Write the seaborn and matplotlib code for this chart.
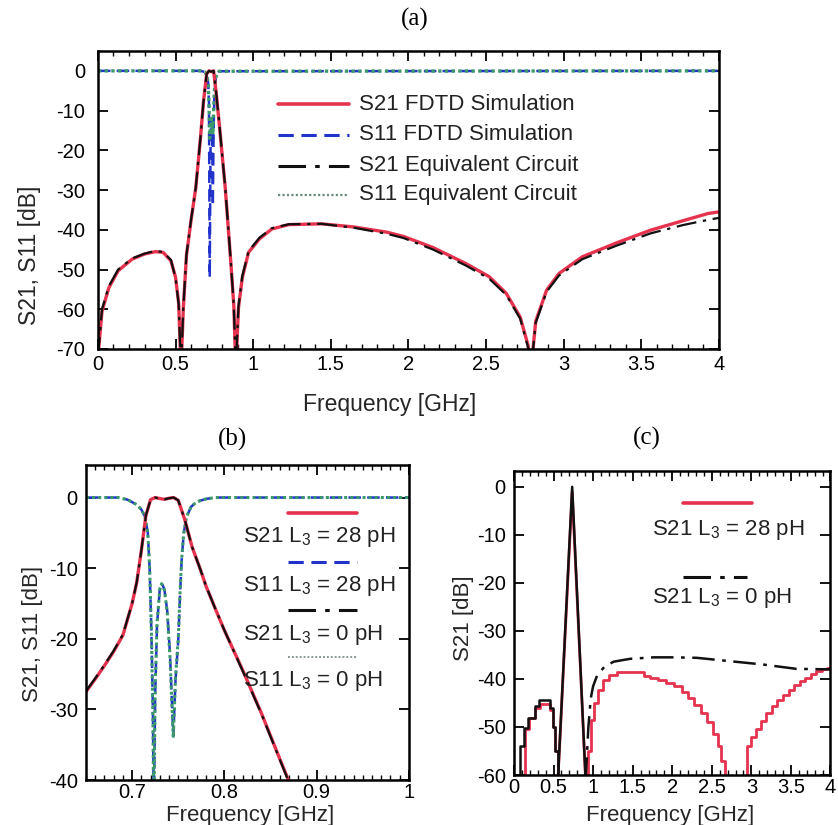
import matplotlib
matplotlib.use("Agg")
import matplotlib.pyplot as plt
import seaborn as sns
from matplotlib.lines import Line2D
from matplotlib.ticker import MultipleLocator, FuncFormatter

# ---------------- data ----------------
# Panel (a): 0 - 4 GHz
freq_a = [0, 0.026, 0.07, 0.13, 0.22, 0.30, 0.37, 0.42, 0.47, 0.50, 0.52, 0.535,
          0.55, 0.57, 0.60, 0.63, 0.66, 0.68, 0.70, 0.715, 0.73, 0.745, 0.76, 0.78,
          0.82, 0.855, 0.875, 0.888, 0.905, 0.93, 0.97, 1.04, 1.12, 1.23, 1.44,
          1.65, 1.86, 1.97, 2.16, 2.37, 2.52, 2.63, 2.72, 2.77, 2.79, 2.82, 2.89,
          2.97, 3.12, 3.34, 3.56, 3.77, 3.93, 4.0]
s21_fdtd_a = [-72, -60.5, -54.6, -50.3, -47.4, -46.1, -45.5, -45.7, -47.8, -52.0,
              -58.5, -75, -59.7, -46.5, -37.5, -29.5, -17.0, -7.7, -0.8, 0.0, -0.2,
              0.0, -5.0, -12.8, -29.5, -47.8, -59.0, -75, -59.7, -52.0, -45.7,
              -42.3, -39.8, -38.7, -38.5, -39.3, -40.6, -41.7, -44.5, -48.5, -51.8,
              -56.0, -62.0, -69.0, -75, -63.0, -55.2, -51.0, -46.8, -43.3, -40.1,
              -37.7, -35.9, -35.5]
s21_eq_a = [-72, -60.0, -54.2, -50.0, -47.2, -46.0, -45.3, -45.6, -47.6, -52.2,
            -58.8, -75, -59.4, -46.3, -37.4, -29.4, -17.0, -7.6, -0.8, 0.0, -0.2,
            0.0, -5.0, -12.7, -29.4, -47.6, -59.2, -75, -59.3, -51.6, -45.4,
            -42.0, -39.6, -38.6, -38.5, -39.5, -41.0, -42.1, -45.0, -49.0, -52.3,
            -56.4, -62.4, -69.5, -75, -63.4, -55.6, -51.5, -47.4, -44.0, -40.9,
            -38.8, -37.5, -37.0]
freq11_a = [0, 0.66, 0.69, 0.70, 0.71, 0.715, 0.72, 0.725, 0.73, 0.735, 0.74,
            0.745, 0.75, 0.76, 0.78, 4.0]
s11_fdtd_a = [0, 0, -0.3, -1.0, -3.0, -8.0, -52.0, -20.0, -12.0, -14.0, -34.0,
              -15.0, -6.0, -1.5, -0.1, 0]
s11_eq_a = [0, 0, -0.3, -1.0, -3.0, -8.0, -17.0, -14.0, -12.0, -13.0, -16.0,
            -10.0, -5.0, -1.5, -0.1, 0]

# Panel (b): zoom 0.65 - 1 GHz
freq21_b = [0.65, 0.66, 0.67, 0.68, 0.69, 0.70, 0.705, 0.71, 0.715, 0.72, 0.725,
            0.73, 0.735, 0.74, 0.745, 0.75, 0.757, 0.765, 0.774, 0.78, 0.79, 0.80,
            0.82, 0.84, 0.86, 0.87, 0.88]
s21_28_b = [-27.5, -25.7, -23.8, -21.8, -19.5, -15.0, -12.0, -7.5, -2.5, -0.3, 0.0,
            -0.15, -0.25, -0.1, 0.0, -0.4, -3.1, -7.0, -10.2, -12.5, -15.7, -18.8,
            -24.5, -30.5, -37.0, -40.2, -43.5]
s21_0_b = [-27.4, -25.6, -23.7, -21.7, -19.4, -15.0, -12.0, -7.5, -2.5, -0.3, 0.0,
           -0.15, -0.25, -0.1, 0.0, -0.4, -3.1, -7.0, -10.2, -12.5, -15.7, -18.8,
           -24.6, -30.6, -37.1, -40.3, -43.6]
freq11_b = [0.65, 0.685, 0.695, 0.705, 0.71, 0.714, 0.717, 0.719, 0.721, 0.7225,
            0.7235, 0.725, 0.727, 0.73, 0.732, 0.735, 0.738, 0.741, 0.7446, 0.747,
            0.75, 0.752, 0.7537, 0.756, 0.759, 0.764, 0.77, 0.78, 0.79, 1.0]
s11_28_b = [0, 0, -0.3, -1.0, -1.7, -2.7, -5.0, -10.0, -19.7, -30.0, -45.0, -28.0,
            -18.0, -13.0, -12.1, -13.0, -16.0, -22.0, -33.8, -26.0, -20.2, -13.5,
            -8.8, -5.0, -2.7, -1.3, -0.6, -0.2, 0, 0]
s11_0_b = [0, 0, -0.3, -1.0, -1.7, -2.7, -5.0, -10.0, -19.5, -31.0, -46.0, -27.0,
           -17.8, -13.0, -12.2, -13.1, -16.2, -22.5, -34.0, -25.5, -20.0, -13.3,
           -8.7, -5.0, -2.7, -1.3, -0.6, -0.2, 0, 0]

# Panel (c): S21, 0 - 4 GHz
# L3 = 28 pH
freq_c28_low = [0.13, 0.14, 0.19, 0.26, 0.33, 0.45, 0.49, 0.52, 0.55]
s21_c28_low = [-61, -50.5, -48.2, -46.0, -45.3, -46.5, -50.0, -55.0, -61]
freq_c28_pk = [0.555, 0.735, 0.905]
s21_c28_pk = [-61, -1.0, -61]
freq_c28_high = [0.905, 0.93, 0.97, 1.01, 1.06, 1.12, 1.20, 1.30, 1.64, 1.72,
                 1.82, 1.92, 2.02, 2.12, 2.20, 2.28, 2.36, 2.44, 2.52, 2.58, 2.62,
                 2.67, 2.95, 3.00, 3.06, 3.12, 3.19, 3.26, 3.33, 3.40, 3.47, 3.54,
                 3.61, 3.68, 3.75, 3.82, 3.89, 3.96, 4.0]
s21_c28_high = [-61, -55.0, -48.5, -45.0, -42.3, -40.2, -39.2, -38.5, -39.3, -39.8,
                -40.3, -40.8, -41.5, -42.8, -44.0, -45.5, -47.0, -49.0, -51.5,
                -54.0, -57.0, -61, -54.0, -52.0, -50.5, -48.8, -47.0, -45.7, -44.4,
                -43.3, -42.3, -41.3, -40.5, -39.7, -39.0, -38.4, -38.0, -37.7, -37.7]
# L3 = 0 pH
freq_c0_low = [0.07, 0.075, 0.12, 0.18, 0.26, 0.32, 0.45, 0.49, 0.52, 0.555]
s21_c0_low = [-61, -54.0, -50.2, -48.2, -45.7, -44.3, -46.0, -50.0, -55.0, -61]
freq_c0_pk = [0.555, 0.735, 0.905]
s21_c0_pk = [-61, 0.0, -61]
freq_c0_high = [0.905, 0.94, 0.97, 1.00, 1.05, 1.14, 1.26, 1.47, 1.77, 2.02, 2.31,
                2.73, 3.15, 3.57, 4.0]
s21_c0_high = [-61, -50.0, -44.0, -41.5, -39.3, -37.5, -36.4, -35.8, -35.5, -35.5,
               -35.6, -36.3, -37.0, -37.9, -38.0]

legend_a = ["S21 FDTD Simulation", "S11 FDTD Simulation",
            "S21 Equivalent Circuit", "S11 Equivalent Circuit"]
legend_b = ["S21 L$_3$ = 28 pH", "S11 L$_3$ = 28 pH",
            "S21 L$_3$ = 0 pH", "S11 L$_3$ = 0 pH"]
legend_c = ["S21 L$_3$ = 28 pH", "S21 L$_3$ = 0 pH"]

# ---------------- styling ----------------
sns.set_style("ticks")
plt.rcParams.update({
    "font.family": ["Liberation Sans", "DejaVu Sans"],
    "mathtext.default": "regular",
    "axes.unicode_minus": False,
    "xtick.direction": "in", "ytick.direction": "in",
    "xtick.top": True, "ytick.right": True,
    "xtick.major.size": 7, "ytick.major.size": 7,
    "xtick.minor.size": 3.5, "ytick.minor.size": 3.5,
    "xtick.major.width": 1.3, "ytick.major.width": 1.3,
    "xtick.minor.width": 1.0,
    "xtick.color": "black", "ytick.color": "black",
    "axes.linewidth": 1.8, "axes.edgecolor": "black",
    "text.color": "#222222",
})

RED = "#e5334f"
BLUE = "#2233cc"
GREEN = "#3c9a6a"
BLACK = "#111111"
DASH = (0, (5, 2.5))
DASHDOT = (0, (9, 3, 1.5, 3))
DOT = (0, (1, 1.0))

fig = plt.figure(figsize=(8.38, 8.25), dpi=100)
fig.patch.set_facecolor("white")


def line(ax, x, y, **kw):
    sns.lineplot(x=x, y=y, ax=ax, estimator=None, sort=False, **kw)


def legend_line(ax, x0, x1, y, **kw):
    ax.add_line(Line2D([x0, x1], [y, y], transform=ax.transAxes, clip_on=False, **kw))


def style_axis(ax, xmaj, xmin, tick_fs, xpad, ypad):
    ax.xaxis.set_major_locator(MultipleLocator(xmaj))
    ax.xaxis.set_minor_locator(MultipleLocator(xmin))
    ax.yaxis.set_major_locator(MultipleLocator(10))
    ax.xaxis.set_major_formatter(FuncFormatter(lambda v, p: "%g" % round(v, 3)))
    ax.yaxis.set_major_formatter(FuncFormatter(lambda v, p: "%g" % round(v, 3)))
    ax.tick_params(axis="x", which="major", labelsize=tick_fs, pad=xpad)
    ax.tick_params(axis="y", which="major", labelsize=tick_fs, pad=ypad)
    ax.tick_params(axis="y", which="minor", left=False, right=False)
    for s in ax.spines.values():
        s.set_visible(True)
    ax.set_facecolor("white")


# ---------------- panel (a) ----------------
axa = fig.add_axes([0.1169, 0.577, 0.741, 0.3612])
line(axa, freq11_a, s11_fdtd_a, color=BLUE, lw=1.8, linestyle=DASH)
line(axa, freq11_a, s11_eq_a, color=GREEN, lw=2.4, linestyle=DOT)
line(axa, freq_a, s21_fdtd_a, color=RED, lw=2.4)
line(axa, freq_a, s21_eq_a, color=BLACK, lw=1.6, linestyle=DASHDOT)
axa.set_xlim(0, 4)
axa.set_ylim(-70, 5)
style_axis(axa, 0.5, 0.1, 14.5, 4, 9)
axa.set_xlabel("Frequency [GHz]", fontsize=16.5, va="center")
axa.xaxis.set_label_coords(0.47, -0.188)
axa.set_ylabel("S21, S11 [dB]", fontsize=16.5, va="center")
axa.yaxis.set_label_coords(-0.11, 0.315)

leg_rows_a = [0.821, 0.719, 0.615, 0.518]
leg_styles_a = [dict(color=RED, lw=2.6), dict(color=BLUE, lw=2.2, linestyle=DASH),
                dict(color=BLACK, lw=2.2, linestyle=DASHDOT),
                dict(color="#6a8a78", lw=1.6, linestyle=DOT)]
for yy, lab, st in zip(leg_rows_a, legend_a, leg_styles_a):
    legend_line(axa, 0.290, 0.404, yy, **st)
    axa.text(0.420, yy, lab, transform=axa.transAxes, fontsize=16, va="center",
             ha="left", color="#222222")

# ---------------- panel (b) ----------------
axb = fig.add_axes([0.1026, 0.0545, 0.3854, 0.3818])
line(axb, freq11_b, s11_28_b, color=BLUE, lw=1.8, linestyle=DASH)
line(axb, freq11_b, s11_0_b, color=GREEN, lw=2.2, linestyle=DOT)
line(axb, freq21_b, s21_28_b, color=RED, lw=2.4)
line(axb, freq21_b, s21_0_b, color=BLACK, lw=1.6, linestyle=DASHDOT)
axb.set_xlim(0.65, 1.0)
axb.set_ylim(-40, 4.6)
style_axis(axb, 0.1, 0.01, 14.5, 2, 6)
axb.set_xlabel("Frequency [GHz]", fontsize=16, va="center")
axb.xaxis.set_label_coords(0.508, -0.113)
axb.set_ylabel("S21, S11 [dB]", fontsize=16, va="center")
axb.yaxis.set_label_coords(-0.167, 0.463)

leg_lines_b = [0.848, 0.692, 0.540, 0.390]
leg_text_b = [0.757, 0.600, 0.444, 0.298]
leg_styles_b = [dict(color=RED, lw=2.6), dict(color=BLUE, lw=2.2, linestyle=DASH),
                dict(color=BLACK, lw=2.2, linestyle=DASHDOT),
                dict(color="#8a9a90", lw=1.4, linestyle=DOT)]
for yl, yt, lab, st in zip(leg_lines_b, leg_text_b, legend_b, leg_styles_b):
    legend_line(axb, 0.625, 0.839, yl, **st)
    axb.text(0.486, yt, lab, transform=axb.transAxes, fontsize=16, va="baseline",
             ha="left", color="#222222")

# ---------------- panel (c) ----------------
axc = fig.add_axes([0.6134, 0.0606, 0.3776, 0.3685])
line(axc, freq_c28_low, s21_c28_low, color=RED, lw=2.0, drawstyle="steps-post")
line(axc, freq_c28_pk, s21_c28_pk, color=RED, lw=2.0)
line(axc, freq_c28_high, s21_c28_high, color=RED, lw=2.0, drawstyle="steps-post")
line(axc, freq_c0_low, s21_c0_low, color=BLACK, lw=1.8, drawstyle="steps-post")
line(axc, freq_c0_pk, s21_c0_pk, color=BLACK, lw=1.8)
line(axc, freq_c0_high, s21_c0_high, color=BLACK, lw=1.8, linestyle=DASHDOT)
axc.set_xlim(0, 4)
axc.set_ylim(-60, 3.3)
style_axis(axc, 0.5, 0.1, 14.5, 2, 6)
axc.set_xlabel("Frequency [GHz]", fontsize=16, va="center")
axc.xaxis.set_label_coords(0.492, -0.132)
axc.set_ylabel("S21 [dB]", fontsize=16, va="center")
axc.yaxis.set_label_coords(-0.161, 0.516)

legend_line(axc, 0.533, 0.751, 0.895, color=RED, lw=2.6)
axc.text(0.436, 0.789, legend_c[0], transform=axc.transAxes, fontsize=16,
         va="baseline", ha="left", color="#222222")
legend_line(axc, 0.533, 0.736, 0.651, color=BLACK, lw=2.2, linestyle=DASHDOT)
axc.text(0.436, 0.566, legend_c[1], transform=axc.transAxes, fontsize=16,
         va="baseline", ha="left", color="#222222")

# ---------------- panel titles ----------------
serif = ["Liberation Serif", "DejaVu Serif"]
fig.text(0.495, 0.976, "(a)", family=serif, fontsize=18, ha="center", va="center",
         color="black")
fig.text(0.277, 0.467, "(b)", family=serif, fontsize=18, ha="center", va="center",
         color="black")
fig.text(0.772, 0.469, "(c)", family=serif, fontsize=18, ha="center", va="center",
         color="black")

fig.savefig("out.png", dpi=100, facecolor="white")
